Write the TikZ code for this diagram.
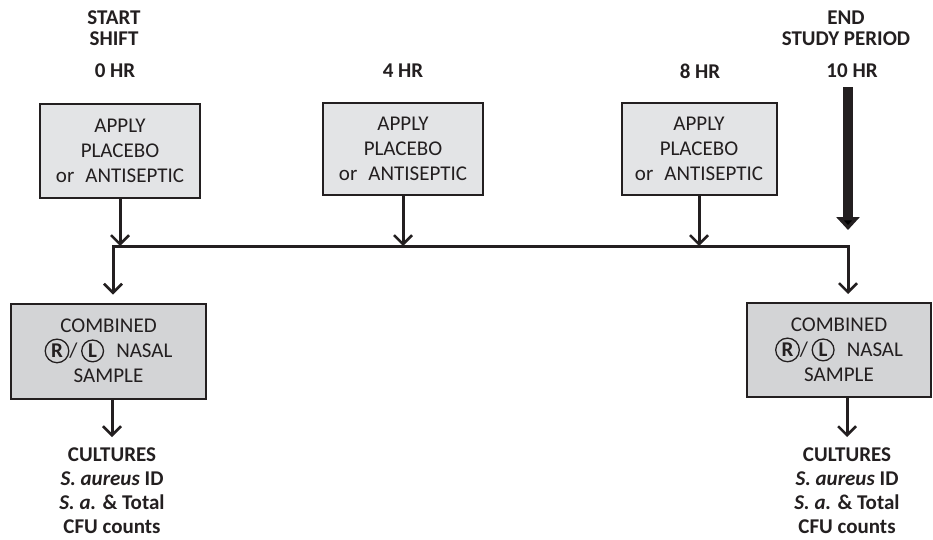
\documentclass[tikz,border=0pt]{standalone}
\usepackage{fontspec}
\setmainfont{Carlito}
\usetikzlibrary{arrows.meta}
\definecolor{ink}{HTML}{231F20}
\definecolor{boxA}{HTML}{E3E4E6}
\definecolor{boxB}{HTML}{D3D4D6}
\newcommand\circlet[1]{\tikz[baseline=(cl.base)]\node[circle,draw=ink,fill=none,line width=1.3pt,inner sep=2pt,minimum width=0pt,minimum height=0pt,font=\bfseries](cl){#1};}
\begin{document}
\begin{tikzpicture}[x=1pt,y=-1pt,
  every node/.style={text=ink},
  head/.style={font=\fontsize{21}{21}\selectfont\bfseries, align=center, inner sep=0pt},
  applybox/.style={draw=ink, line width=2pt, fill=boxA, minimum width=160pt, minimum height=93pt, align=center, font=\fontsize{21}{25}\selectfont, inner sep=0pt},
  samplebox/.style={draw=ink, line width=2pt, fill=boxB, minimum height=95pt, align=center, font=\fontsize{21}{25}\selectfont, inner sep=0pt},
  culture/.style={font=\fontsize{21}{24}\selectfont\bfseries, align=center, inner sep=0pt, anchor=north},
  flow/.style={draw=ink, line width=3pt, arrows={-Straight Barb[length=9pt,width=18pt,line width=2.5pt]}},
  twoway/.style={draw=ink, line width=3pt, arrows={Straight Barb[length=9pt,width=18pt,line width=2.5pt]-Straight Barb[length=9pt,width=18pt,line width=2.5pt]}},
  bigarrow/.style={draw=ink, line width=10pt, arrows={-Triangle[length=13pt,width=23pt]}}
]
\useasboundingbox (0,0) rectangle (933,540);

% headings
\node[head] (start) at (114,28) {START\\SHIFT};
\node[head] (endp) at (846,28) {END\\STUDY PERIOD};
\node[head] (hr0) at (115,71) {0 HR};
\node[head] (hr4) at (403,71) {4 HR};
\node[head] (hr8) at (700,71) {8 HR};
\node[head] (hr10) at (852,71) {10 HR};

% apply boxes
\node[applybox] (a0) at (120,151) {APPLY\\PLACEBO\\or\hspace{0.3em} ANTISEPTIC};
\node[applybox, minimum height=91pt] (a4) at (403,149) {APPLY\\PLACEBO\\or\hspace{0.3em} ANTISEPTIC};
\node[applybox, minimum width=155pt, minimum height=91pt] (a8) at (699,149) {APPLY\\PLACEBO\\or\hspace{0.3em} ANTISEPTIC};

% sample boxes
\node[samplebox, minimum width=195pt] (s0) at (108.5,351) {COMBINED\\\circlet{R}/\,\circlet{L}\hspace{0.35em} NASAL\\SAMPLE};
\node[samplebox, minimum width=184pt, minimum height=94pt] (s10) at (839,350) {COMBINED\\\circlet{R}/\,\circlet{L}\hspace{0.35em} NASAL\\SAMPLE};

% cultures
\node[culture] (c0) at (112,448) {CULTURES\\\textit{S. aureus} ID\\\textit{S. a.} \& Total\\CFU counts};
\node[culture] (c10) at (847,448) {CULTURES\\\textit{S. aureus} ID\\\textit{S. a.} \& Total\\CFU counts};

% timeline
\coordinate (L) at (113,246);
\coordinate (R) at (848,246);

\draw[twoway, shorten <=8pt, shorten >=8pt] (L |- s0.north) -- (L) -- (R) -- (R |- s10.north);

\draw[flow] (a0.south) -- (a0.south |- L);
\draw[flow] (a4.south) -- (a4.south |- L);
\draw[flow] (a8.south) -- (a8.south |- L);

\draw[bigarrow, shorten <=9pt, shorten >=16pt] (R |- hr10.south) -- (R);

\draw[flow, shorten >=11pt] (c0.north |- s0.south) -- (c0.north);
\draw[flow, shorten >=11pt] (c10.north |- s10.south) -- (c10.north);
\end{tikzpicture}
\end{document}
